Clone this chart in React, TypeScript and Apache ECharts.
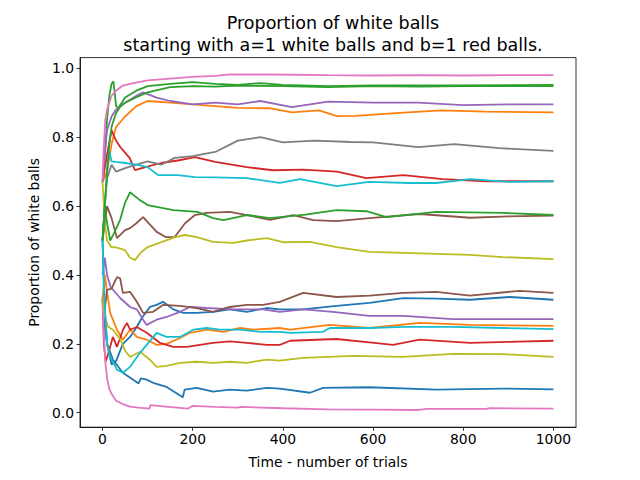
import React, { useEffect, useRef } from "react";
import * as echarts from "echarts";

type P = [number, number][];

const chartTitle = "Proportion of white balls\nstarting with a=1 white balls and b=1 red balls.";
const xName = "Time - number of trials";
const yName = "Proportion of white balls";
const xTicks = [0, 200, 400, 600, 800, 1000];
const yTicks = [0, 0.2, 0.4, 0.6, 0.8, 1.0];

const blueLow: P = [[0,0.33],[5,0.25],[10,0.2],[23,0.154],[45,0.116],[68,0.096],[80,0.085],[85,0.1],[98,0.096],[112,0.087],[142,0.075],[172,0.05],[178,0.045],[182,0.067],[209,0.072],[245,0.061],[282,0.067],[320,0.064],[364,0.072],[393,0.07],[460,0.058],[489,0.072],[592,0.074],[740,0.067],[888,0.07],[1000,0.068]];
const orangeTop: P = [[0,0.67],[10,0.7],[20,0.78],[30,0.83],[50,0.86],[75,0.89],[100,0.905],[150,0.9],[200,0.895],[250,0.89],[300,0.885],[370,0.884],[420,0.872],[480,0.878],[520,0.861],[560,0.862],[650,0.87],[750,0.878],[850,0.874],[1000,0.872]];
const greenA: P = [[0,0.67],[5,0.75],[10,0.85],[15,0.92],[20,0.955],[24,0.962],[27,0.93],[30,0.89],[35,0.885],[50,0.915],[75,0.935],[100,0.948],[150,0.955],[200,0.96],[250,0.955],[300,0.952],[350,0.957],[400,0.952],[500,0.948],[600,0.95],[700,0.95],[800,0.95],[900,0.951],[1000,0.952]];
const redTop: P = [[0,0.67],[10,0.75],[20,0.82],[30,0.79],[40,0.77],[50,0.755],[60,0.74],[72,0.704],[95,0.713],[130,0.725],[170,0.733],[205,0.742],[250,0.728],[320,0.713],[378,0.704],[445,0.706],[520,0.7],[585,0.681],[667,0.69],[755,0.678],[850,0.672],[1000,0.672]];
const purpleTop: P = [[0,0.67],[5,0.75],[10,0.82],[20,0.86],[30,0.88],[50,0.9],[75,0.92],[90,0.93],[120,0.915],[150,0.905],[200,0.895],[250,0.9],[300,0.895],[350,0.905],[420,0.887],[500,0.903],[600,0.9],[700,0.9],[800,0.893],[900,0.895],[1000,0.895]];
const brownMid: P = [[0,0.5],[5,0.55],[10,0.6],[20,0.565],[32,0.507],[50,0.53],[61,0.536],[75,0.55],[90,0.568],[120,0.525],[140,0.51],[160,0.51],[183,0.55],[205,0.574],[231,0.58],[282,0.583],[320,0.574],[371,0.56],[423,0.574],[467,0.559],[519,0.556],[592,0.565],[703,0.577],[815,0.566],[900,0.57],[1000,0.572]];
const pinkTop: P = [[0,0.67],[2,0.75],[4,0.8],[6,0.85],[10,0.88],[15,0.9],[20,0.92],[30,0.935],[45,0.95],[61,0.955],[80,0.96],[100,0.965],[150,0.97],[200,0.975],[250,0.978],[283,0.982],[372,0.982],[500,0.98],[600,0.979],[700,0.98],[800,0.979],[900,0.98],[1000,0.98]];
const grayMid: P = [[0,0.5],[5,0.6],[10,0.68],[20,0.72],[30,0.7],[50,0.71],[75,0.72],[100,0.73],[130,0.72],[160,0.74],[200,0.745],[250,0.757],[300,0.79],[350,0.8],[400,0.785],[470,0.79],[550,0.786],[600,0.785],[700,0.771],[780,0.78],[880,0.768],[1000,0.76]];
const oliveTop: P = [[0,0.67],[5,0.55],[10,0.5],[20,0.48],[28,0.481],[50,0.472],[61,0.45],[72,0.443],[85,0.465],[100,0.481],[132,0.496],[161,0.51],[183,0.516],[209,0.51],[245,0.496],[290,0.493],[320,0.5],[364,0.507],[400,0.495],[460,0.496],[519,0.481],[592,0.467],[667,0.464],[815,0.458],[888,0.452],[1000,0.446]];
const cyanTop: P = [[0,0.5],[5,0.6],[10,0.7],[15,0.76],[20,0.73],[30,0.728],[50,0.725],[75,0.72],[100,0.713],[123,0.69],[167,0.69],[205,0.684],[250,0.683],[320,0.681],[393,0.667],[438,0.678],[519,0.658],[592,0.67],[680,0.667],[740,0.667],[815,0.678],[900,0.67],[1000,0.672]];
const blueMid: P = [[0,0.5],[5,0.3],[10,0.2],[20,0.14],[30,0.15],[45,0.2],[61,0.22],[76,0.249],[87,0.275],[105,0.307],[120,0.313],[134,0.322],[157,0.3],[179,0.29],[209,0.29],[245,0.293],[282,0.3],[320,0.293],[364,0.304],[393,0.3],[445,0.3],[519,0.31],[592,0.319],[667,0.333],[740,0.331],[815,0.328],[903,0.336],[1000,0.328]];
const orangeLow: P = [[0,0.33],[5,0.4],[10,0.35],[17,0.29],[32,0.241],[45,0.212],[61,0.241],[76,0.22],[98,0.212],[120,0.197],[142,0.2],[172,0.217],[194,0.232],[231,0.241],[268,0.235],[305,0.246],[334,0.241],[393,0.246],[416,0.241],[504,0.255],[592,0.246],[703,0.261],[815,0.255],[1000,0.252]];
const greenB: P = [[0,0.5],[5,0.6],[10,0.7],[15,0.78],[20,0.83],[30,0.87],[40,0.89],[50,0.9],[75,0.916],[100,0.93],[150,0.945],[200,0.948],[250,0.947],[300,0.95],[400,0.948],[500,0.945],[600,0.948],[700,0.947],[800,0.948],[900,0.948],[1000,0.948]];
const redLow: P = [[0,0.33],[3,0.2],[7,0.15],[10,0.16],[23,0.22],[32,0.191],[45,0.24],[54,0.261],[61,0.241],[76,0.249],[98,0.232],[127,0.203],[157,0.191],[187,0.191],[216,0.197],[245,0.203],[282,0.207],[320,0.203],[364,0.197],[393,0.197],[416,0.209],[519,0.214],[592,0.204],[644,0.197],[703,0.212],[815,0.203],[900,0.206],[1000,0.209]];
const purpleLow: P = [[0,0.4],[5,0.45],[10,0.4],[18,0.365],[39,0.333],[61,0.307],[76,0.3],[90,0.27],[98,0.255],[120,0.27],[142,0.278],[172,0.293],[194,0.307],[231,0.304],[290,0.3],[356,0.3],[393,0.293],[445,0.3],[511,0.293],[592,0.281],[667,0.281],[777,0.272],[888,0.272],[1000,0.272]];
const brownLow: P = [[0,0.33],[5,0.3],[10,0.357],[20,0.36],[32,0.394],[39,0.39],[45,0.348],[61,0.351],[76,0.322],[90,0.29],[112,0.293],[134,0.313],[172,0.31],[209,0.304],[245,0.293],[282,0.307],[320,0.313],[356,0.313],[393,0.322],[445,0.348],[519,0.336],[592,0.34],[667,0.348],[740,0.351],[815,0.34],[925,0.354],[1000,0.348]];
const pinkLow: P = [[0,0.33],[2,0.25],[4,0.2],[6,0.15],[10,0.1],[15,0.07],[20,0.055],[30,0.035],[45,0.025],[61,0.018],[80,0.015],[104,0.012],[106,0.022],[140,0.018],[190,0.012],[200,0.02],[250,0.017],[300,0.015],[305,0.017],[400,0.013],[500,0.01],[600,0.009],[700,0.008],[720,0.011],[850,0.011],[860,0.013],[1000,0.012]];
const greenMid: P = [[0,0.5],[5,0.6],[10,0.55],[17,0.5],[25,0.52],[39,0.56],[50,0.61],[61,0.64],[80,0.62],[100,0.603],[157,0.588],[210,0.583],[245,0.565],[268,0.559],[320,0.574],[371,0.565],[450,0.575],[519,0.588],[585,0.585],[630,0.568],[740,0.583],[888,0.58],[1000,0.574]];
const oliveLow: P = [[0,0.33],[5,0.28],[12,0.25],[23,0.241],[40,0.212],[50,0.18],[61,0.162],[83,0.177],[105,0.154],[120,0.133],[142,0.136],[172,0.145],[209,0.148],[245,0.145],[282,0.148],[320,0.145],[364,0.154],[393,0.151],[445,0.159],[556,0.165],[667,0.162],[777,0.171],[888,0.17],[1000,0.162]];
const cyanLow: P = [[0,0.5],[3,0.35],[10,0.2],[17,0.162],[32,0.125],[45,0.116],[61,0.133],[83,0.174],[98,0.197],[120,0.232],[142,0.22],[172,0.22],[201,0.241],[231,0.246],[260,0.241],[305,0.241],[350,0.235],[393,0.235],[416,0.232],[489,0.235],[504,0.246],[592,0.246],[667,0.249],[777,0.249],[888,0.246],[1000,0.243]];

const C = {
  blue: "#1f77b4", orange: "#ff7f0e", green: "#2ca02c", red: "#d62728", purple: "#9467bd",
  brown: "#8c564b", pink: "#e377c2", gray: "#7f7f7f", olive: "#bcbd22", cyan: "#17becf",
};

const lines: { data: P; color: string }[] = [
  { data: blueLow, color: C.blue },
  { data: orangeTop, color: C.orange },
  { data: greenA, color: C.green },
  { data: redTop, color: C.red },
  { data: purpleTop, color: C.purple },
  { data: brownMid, color: C.brown },
  { data: pinkTop, color: C.pink },
  { data: grayMid, color: C.gray },
  { data: oliveTop, color: C.olive },
  { data: cyanTop, color: C.cyan },
  { data: blueMid, color: C.blue },
  { data: orangeLow, color: C.orange },
  { data: greenB, color: C.green },
  { data: redLow, color: C.red },
  { data: purpleLow, color: C.purple },
  { data: brownLow, color: C.brown },
  { data: pinkLow, color: C.pink },
  { data: greenMid, color: C.green },
  { data: oliveLow, color: C.olive },
  { data: cyanLow, color: C.cyan },
];

const FONT = "DejaVu Sans";

export default function App() {
  const ref = useRef<HTMLDivElement>(null);
  useEffect(() => {
    if (!ref.current) return;
    const chart = echarts.init(ref.current, undefined, { renderer: "svg" });
    const axisCommon = {
      axisLine: { show: true, onZero: false, lineStyle: { color: "#000", width: 0.8 } },
      splitLine: { show: false },
    };
    chart.setOption({
      animation: false,
      backgroundColor: "#fff",
      title: {
        text: chartTitle,
        left: 328,
        top: 7,
        textAlign: "center",
        textStyle: { fontFamily: FONT, fontSize: 17.5, fontWeight: "normal", color: "#000", lineHeight: 22 },
      },
      grid: { left: 80, right: 64, top: 57.6, bottom: 52.8, show: true, borderColor: "#000", borderWidth: 0.8, containLabel: false },
      xAxis: {
        type: "value",
        min: -50,
        max: 1050,
        ...axisCommon,
        axisTick: { show: true, length: 3.5, lineStyle: { color: "#000", width: 0.8 }, customValues: xTicks },
        axisLabel: { color: "#000", fontFamily: FONT, fontSize: 13.9, margin: 5, customValues: xTicks, formatter: (v: number) => String(Math.round(v)) },
        name: xName,
        nameLocation: "middle",
        nameGap: 28,
        nameTextStyle: { color: "#000", fontFamily: FONT, fontSize: 13.9 },
      },
      yAxis: {
        type: "value",
        min: -0.042,
        max: 1.031,
        ...axisCommon,
        axisTick: { show: true, length: 3.5, lineStyle: { color: "#000", width: 0.8 }, customValues: yTicks },
        axisLabel: { color: "#000", fontFamily: FONT, fontSize: 13.9, margin: 6, customValues: yTicks, formatter: (v: number) => v.toFixed(1) },
        name: yName,
        nameLocation: "middle",
        nameGap: 38,
        nameTextStyle: { color: "#000", fontFamily: FONT, fontSize: 13.9 },
      },
      series: lines.map((l) => ({
        type: "line",
        data: l.data,
        showSymbol: false,
        symbol: "none",
        lineStyle: { color: l.color, width: 1.8 },
        itemStyle: { color: l.color },
        clip: true,
      })),
    });
    return () => chart.dispose();
  }, []);
  return <div ref={ref} style={{ position: "fixed", left: 0, top: 0, width: 640, height: 480 }} />;
}
